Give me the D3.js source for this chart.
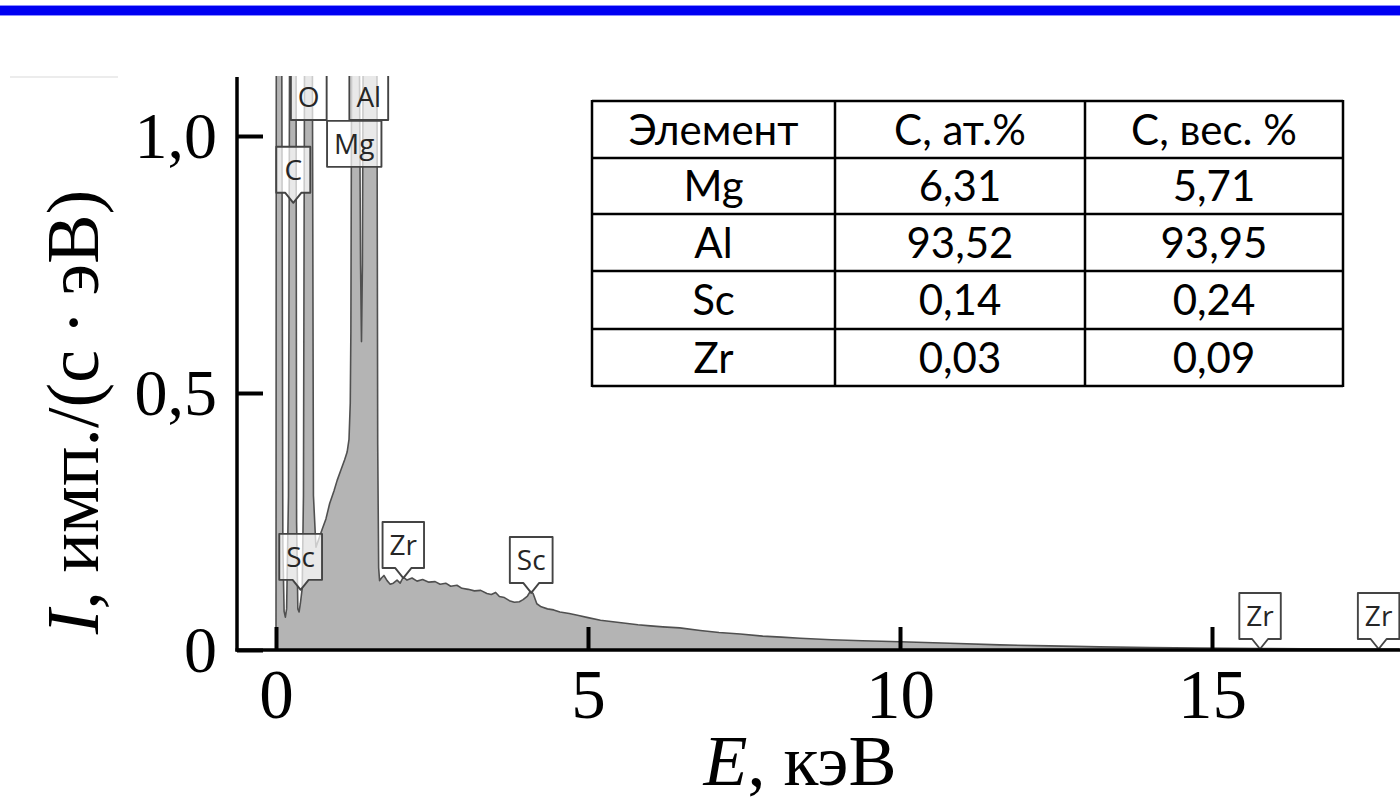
<!DOCTYPE html>
<html>
<head>
<meta charset="utf-8">
<script src="https://cdn.jsdelivr.net/npm/d3@7/dist/d3.min.js"></script>
<style>
  html, body { margin: 0; padding: 0; background: #fff; }
  svg { display: block; }
</style>
</head>
<body>
<svg id="chart" width="1400" height="801"></svg>
<script>
// ---------------- DATA ----------------
// EDS spectrum: energy (keV) and intensity (imp./(s·eV)); values above 1.1 are off-scale (clipped)
const energy = [
  0.00, 0.005, 0.09, 0.11, 0.13, 0.15, 0.17, 0.20, 0.22, 0.32, 0.33, 0.35, 0.37, 0.39, 0.42, 0.44,
  0.46, 0.58, 0.60, 0.64, 0.74, 0.80, 0.86, 0.93, 0.98, 1.04, 1.10, 1.14, 1.17, 1.19, 1.20, 1.215,
  1.33, 1.355, 1.37, 1.385, 1.40, 1.615, 1.63, 1.645, 1.66, 1.69, 1.73, 1.78, 1.83, 1.88, 1.94, 1.99,
  2.04, 2.10, 2.18, 2.26, 2.35, 2.45, 2.55, 2.63, 2.72, 2.80, 2.90, 2.98, 3.08, 3.18, 3.28, 3.38,
  3.45, 3.52, 3.58, 3.66, 3.74, 3.82, 3.90, 3.96, 4.03, 4.08, 4.12, 4.18, 4.25, 4.35, 4.45, 4.55,
  4.70, 4.85, 5.00, 5.20, 5.40, 5.60, 5.80, 6.00, 6.20, 6.47, 6.80, 7.10, 7.44, 7.80, 8.10, 8.40,
  8.90, 9.40, 10.0, 10.8, 11.6, 12.4, 13.2, 14.0, 14.8, 15.8, 17.0, 18.0
];
const intensity = [
  0.000, 1.30, 1.30, 0.20, 0.075, 0.064, 0.080, 0.30, 1.30, 1.30, 0.25, 0.080, 0.074, 0.090, 0.120, 0.30,
  1.30, 1.30, 0.30, 0.200, 0.235, 0.255, 0.285, 0.310, 0.330, 0.350, 0.370, 0.385, 0.410, 0.480, 0.620, 1.30,
  1.30, 0.75, 0.60, 0.75, 1.30, 1.30, 0.40, 0.160, 0.135, 0.140, 0.145, 0.135, 0.128, 0.130, 0.136, 0.130,
  0.142, 0.136, 0.140, 0.134, 0.137, 0.132, 0.133, 0.128, 0.130, 0.124, 0.126, 0.120, 0.118, 0.115, 0.116, 0.110,
  0.108, 0.112, 0.104, 0.102, 0.096, 0.093, 0.094, 0.098, 0.105, 0.115, 0.110, 0.090, 0.084, 0.080, 0.078, 0.074,
  0.071, 0.067, 0.063, 0.058, 0.055, 0.052, 0.049, 0.047, 0.045, 0.043, 0.038, 0.034, 0.031, 0.027, 0.025, 0.023,
  0.020, 0.018, 0.016, 0.013, 0.010, 0.008, 0.006, 0.005, 0.004, 0.003, 0.002, 0.002
];

// Peak labels
const peakNames   = ["C", "O", "Mg", "Al", "Sc", "Zr", "Sc", "Zr", "Zr"];
const peakEnergy  = [0.277, 0.525, 1.254, 1.487, 0.395, 2.04, 4.09, 15.77, 17.67];
const peakLevel   = [0.870, 1.031, 0.940, 1.031, 0.117, 0.140, 0.111, 0.002, 0.002];
const peakPointer = [true, false, false, false, true, true, true, true, true];

// Axis ticks
const xTicks = [0, 5, 10, 15];
const yTicks = [0, 0.5, 1.0];

// Composition table
const tableHeader = ["Элемент", "С, ат.%", "С, вес. %"];
const tableElements = ["Mg", "Al", "Sc", "Zr"];
const atomicPct = ["6,31", "93,52", "0,14", "0,03"];
const weightPct = ["5,71", "93,95", "0,24", "0,09"];

// ---------------- LAYOUT ----------------
const svg = d3.select("#chart");
const X0 = 237, X1 = 1400, Ytop = 76, Ybot = 650;
const SERIF = "'Liberation Serif', 'Times New Roman', serif";

const x = d3.scaleLinear().domain([0, 18]).range([276, 276 + 62.4 * 18]);
const y = d3.scaleLinear().domain([0, 1]).range([650, 136]);

// blue header bar
svg.append("rect").attr("x", 0).attr("y", 5).attr("width", 1400).attr("height", 11).attr("fill", "#8c8cff");
svg.append("rect").attr("x", 0).attr("y", 6).attr("width", 1400).attr("height", 9).attr("fill", "#0000f2");

// faint line top-left
svg.append("line").attr("x1", 10).attr("x2", 118).attr("y1", 77).attr("y2", 77)
  .attr("stroke", "#ececec").attr("stroke-width", 2);

// clip
svg.append("defs").append("clipPath").attr("id", "plotclip")
  .append("rect").attr("x", X0).attr("y", Ytop).attr("width", X1 - X0).attr("height", Ybot - Ytop);

const plot = svg.append("g").attr("clip-path", "url(#plotclip)");

const pts = energy.map((e, i) => [e, intensity[i]]);
const area = d3.area().x(d => x(d[0])).y0(y(0)).y1(d => y(d[1]));
const line = d3.line().x(d => x(d[0])).y(d => y(d[1]));

plot.append("path").datum(pts).attr("d", area).attr("fill", "#b4b4b4");
plot.append("path").datum(pts).attr("d", line).attr("fill", "none")
  .attr("stroke", "#505050").attr("stroke-width", 1.6).attr("stroke-linejoin", "round");

// peak labels
const BH = 46, PH = 10, PW = 8;
peakNames.forEach((name, i) => {
  const g = plot.append("g");
  const cx = x(peakEnergy[i]);
  const tipY = y(peakLevel[i]);
  const t = g.append("text").text(name)
    .attr("font-family", "'Open Sans', sans-serif").attr("font-size", 28)
    .attr("fill", "#262626").attr("text-anchor", "middle");
  const tw = t.node().getComputedTextLength();
  const w = Math.max(34, tw + 14);
  const bottom = peakPointer[i] ? tipY - PH : tipY;
  const top = bottom - BH;
  const l = cx - w / 2, r = cx + w / 2;
  let d;
  if (peakPointer[i]) {
    d = `M${l},${top} H${r} V${bottom} H${cx + PW} L${cx},${tipY} L${cx - PW},${bottom} H${l} Z`;
  } else {
    d = `M${l},${top} H${r} V${bottom} H${l} Z`;
  }
  g.insert("path", "text").attr("d", d).attr("fill", "#ffffff").attr("fill-opacity", 0.7)
    .attr("stroke", "#444").attr("stroke-width", 1.9).attr("stroke-linejoin", "round");
  t.attr("x", cx).attr("y", (top + bottom) / 2 + 10);
});

// axes
const fmt = d => d === 0 ? "0" : d3.format(".1f")(d).replace(".", ",");
const xAxis = svg.append("g").attr("transform", `translate(0,${Ybot})`)
  .call(d3.axisBottom(x).tickValues(xTicks).tickSize(-23).tickFormat(d => String(d)));
xAxis.select(".domain").remove();
xAxis.selectAll(".tick line").attr("stroke", "#000").attr("stroke-width", 4);
xAxis.selectAll(".tick text").attr("y", 68).attr("dy", 0)
  .attr("font-family", SERIF).attr("font-size", 69).attr("fill", "#000");

const yAxis = svg.append("g").attr("transform", `translate(${X0},0)`)
  .call(d3.axisLeft(y).tickValues(yTicks).tickSize(-26).tickFormat(fmt));
yAxis.select(".domain").remove();
yAxis.selectAll(".tick line").attr("stroke", "#000").attr("stroke-width", 4);
yAxis.selectAll(".tick text").attr("x", -20).attr("dy", "0.33em")
  .attr("font-family", SERIF).attr("font-size", 66).attr("fill", "#000");

svg.append("line").attr("x1", X0).attr("x2", X0).attr("y1", 77).attr("y2", Ybot + 1.5)
  .attr("stroke", "#000").attr("stroke-width", 3.5);
svg.append("line").attr("x1", X0 - 1.5).attr("x2", X1).attr("y1", Ybot).attr("y2", Ybot)
  .attr("stroke", "#000").attr("stroke-width", 3.5);

// axis titles
const xt = svg.append("text").attr("x", 800).attr("y", 785).attr("text-anchor", "middle")
  .attr("font-family", SERIF).attr("font-size", 72).attr("fill", "#000");
xt.append("tspan").attr("font-style", "italic").text("E");
xt.append("tspan").text(", кэВ");

const yt = svg.append("text").attr("transform", "translate(98,412) rotate(-90)").attr("text-anchor", "middle")
  .attr("font-family", SERIF).attr("font-size", 74).attr("fill", "#000");
yt.append("tspan").attr("font-style", "italic").text("I");
yt.append("tspan").text(", имп./(с\u2009·\u2009эВ)");

// table
const colX = [592, 835, 1085, 1343];
const rowY = [101, 158, 214, 271, 329, 386];
const tbl = svg.append("g");
tbl.append("rect").attr("x", colX[0]).attr("y", rowY[0]).attr("width", colX[3] - colX[0]).attr("height", rowY[5] - rowY[0])
  .attr("fill", "#fff").attr("stroke", "none");
const rows = [tableHeader].concat(tableElements.map((e, i) => [e, atomicPct[i], weightPct[i]]));
rows.forEach((row, ri) => {
  row.forEach((cell, ci) => {
    tbl.append("text").text(cell)
      .attr("x", (colX[ci] + colX[ci + 1]) / 2)
      .attr("y", (rowY[ri] + rowY[ri + 1]) / 2 + 15)
      .attr("text-anchor", "middle")
      .attr("font-family", "Lato, 'Open Sans', sans-serif").attr("font-size", 42).attr("fill", "#000");
  });
});
colX.forEach(cx => tbl.append("line").attr("x1", cx).attr("x2", cx).attr("y1", rowY[0] - 1).attr("y2", rowY[5] + 1)
  .attr("stroke", "#000").attr("stroke-width", 2.5));
rowY.forEach(ry => tbl.append("line").attr("x1", colX[0]).attr("x2", colX[3]).attr("y1", ry).attr("y2", ry)
  .attr("stroke", "#000").attr("stroke-width", 2.5));
</script>
</body>
</html>
